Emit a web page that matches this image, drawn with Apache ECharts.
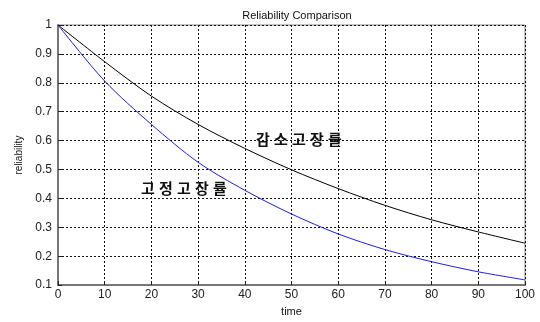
<!DOCTYPE html>
<html>
<head>
<meta charset="utf-8">
<script src="https://cdn.jsdelivr.net/npm/echarts@6/dist/echarts.min.js"></script>
<style>
  html, body { margin: 0; padding: 0; background: #fff; }
  #chart { width: 540px; height: 322px; }
</style>
</head>
<body>
<div id="chart"></div>
<script>
// 시간 축 (time)
const timeData = [0, 10, 20, 30, 40, 50, 60, 70, 80, 90, 100];
// 감소고장률 (black)
const decreasingRate = [1, 0.873, 0.754, 0.656, 0.573, 0.499, 0.434, 0.376, 0.326, 0.284, 0.245];
// 고정고장률 (blue)
const constantRate = [1, 0.806, 0.656, 0.525, 0.428, 0.346, 0.277, 0.223, 0.181, 0.146, 0.118];

const labelDecreasing = "감소고장률";
const labelConstant = "고정고장률";

const axisFont = "Arial, 'Liberation Sans', sans-serif";
const krFont = "'Noto Sans CJK KR', sans-serif";

// 글자 간격을 띄운 라벨
const spacedLabel = (text, left, top) => ({
  type: "group",
  left: left,
  top: top,
  children: Array.from(text).map((ch, i) => ({
    type: "text",
    x: i * 18,
    y: 0,
    style: {
      text: ch,
      font: "bold 15px " + krFont,
      fill: "#111",
      backgroundColor: "#fff",
    },
  })),
});

const option = {
  animation: false,
  backgroundColor: "#fff",
  title: {
    text: "Reliability Comparison",
    left: 292,
    textAlign: "center",
    top: 5,
    textStyle: { fontFamily: axisFont, fontSize: 11, fontWeight: "normal", color: "#111" },
  },
  grid: {
    left: 58,
    right: 15,
    top: 25,
    bottom: 32,
    show: true,
    borderColor: "#888",
    borderWidth: 1,
  },
  xAxis: {
    type: "value",
    min: 0,
    max: 100,
    interval: 10,
    name: "time",
    nameLocation: "middle",
    nameGap: 16,
    nameTextStyle: { fontFamily: axisFont, fontSize: 11, color: "#111" },
    axisLine: { lineStyle: { color: "#777", width: 2 } },
    axisTick: { inside: true, length: 4, lineStyle: { color: "#222" } },
    axisLabel: { fontFamily: axisFont, fontSize: 12, color: "#222", margin: 4 },
    splitLine: { lineStyle: { color: "#111", type: [2, 2], width: 1 } },
  },
  yAxis: {
    type: "value",
    min: 0.1,
    max: 1,
    interval: 0.1,
    name: "reliability",
    nameLocation: "middle",
    nameGap: 34,
    nameTextStyle: { fontFamily: axisFont, fontSize: 10, color: "#111" },
    axisLine: { show: true, lineStyle: { color: "#777", width: 2 } },
    axisTick: { show: true, inside: true, length: 4, lineStyle: { color: "#222" } },
    axisLabel: {
      fontFamily: axisFont,
      fontSize: 12,
      color: "#222",
      margin: 6,
      formatter: (v) => String(Math.round(v * 10) / 10),
    },
    splitLine: { lineStyle: { color: "#111", type: [2, 2], width: 1 } },
  },
  series: [
    {
      name: labelDecreasing,
      type: "line",
      smooth: 0.3,
      showSymbol: false,
      lineStyle: { color: "#000", width: 1 },
      data: timeData.map((t, i) => [t, decreasingRate[i]]),
    },
    {
      name: labelConstant,
      type: "line",
      smooth: 0.3,
      showSymbol: false,
      lineStyle: { color: "#1a1aff", width: 1 },
      data: timeData.map((t, i) => [t, constantRate[i]]),
    },
  ],
  graphic: [
    spacedLabel(labelDecreasing, 256, 132),
    spacedLabel(labelConstant, 141, 181),
  ],
};

const myChart = echarts.init(document.getElementById("chart"));
myChart.setOption(option);
</script>
</body>
</html>
